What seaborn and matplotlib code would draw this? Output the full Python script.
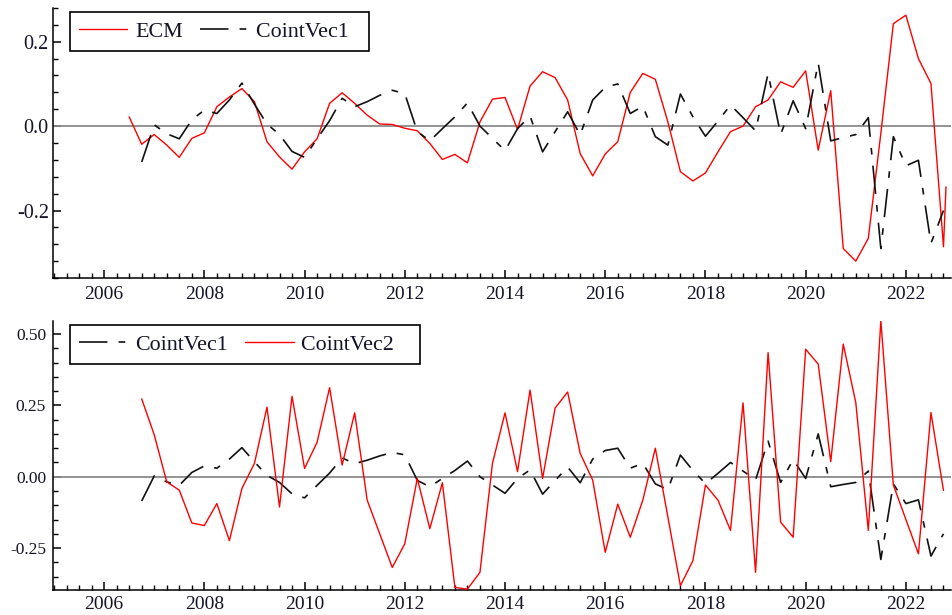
import numpy as np
import pandas as pd
import matplotlib
matplotlib.use("Agg")
import matplotlib.pyplot as plt
from matplotlib.ticker import MultipleLocator, FixedLocator, FixedFormatter
import seaborn as sns

# ---- data (quarterly) ----
ecm_start = "2006Q3"
ecm = [0.022, -0.043, -0.020, -0.045, -0.074, -0.029, -0.016, 0.046, 0.069, 0.089,
       0.058, -0.037, -0.073, -0.102, -0.061, -0.030, 0.054, 0.079, 0.054, 0.026,
       0.005, 0.004, -0.005, -0.011, -0.041, -0.079, -0.067, -0.087, 0.010, 0.064,
       0.068, -0.008, 0.095, 0.129, 0.115, 0.062, -0.065, -0.118, -0.066, -0.037,
       0.080, 0.125, 0.111, 0.010, -0.108, -0.130, -0.111, -0.061, -0.013, 0.000,
       0.046, 0.062, 0.105, 0.092, 0.131, -0.057, 0.084, -0.290, -0.320, -0.266,
       -0.017, 0.243, 0.263, 0.160, 0.101, -0.286]
ecm_tail_date = 2022.8
ecm_tail_value = -0.144

coint_start = "2006Q4"
cointvec1 = [-0.085, 0.003, -0.018, -0.030, 0.015, 0.038, 0.030, 0.062, 0.102, 0.052,
             0.005, -0.020, -0.060, -0.074, -0.030, 0.013, 0.066, 0.046, 0.058, 0.073,
             0.085, 0.077, -0.013, -0.035, -0.006, 0.022, 0.055, 0.000, -0.029, -0.058,
             -0.006, 0.024, -0.061, -0.013, 0.034, -0.021, 0.062, 0.092, 0.100, 0.030,
             0.047, -0.025, -0.045, 0.076, 0.022, -0.024, 0.012, 0.050, 0.020, -0.011,
             0.125, -0.020, 0.060, -0.006, 0.150, -0.035, -0.027, -0.020, 0.020, -0.290,
             -0.025, -0.094, -0.081, -0.278, -0.200]
cointvec2 = [0.273, 0.147, -0.018, -0.047, -0.162, -0.171, -0.094, -0.224, -0.041, 0.047,
             0.244, -0.106, 0.282, 0.029, 0.121, 0.312, 0.041, 0.224, -0.082, -0.200,
             -0.318, -0.235, -0.006, -0.182, -0.021, -0.388, -0.394, -0.335, 0.047, 0.224,
             0.018, 0.304, -0.006, 0.241, 0.297, 0.082, -0.012, -0.265, -0.096, -0.212,
             -0.082, 0.100, -0.141, -0.382, -0.294, -0.029, -0.082, -0.188, 0.259, -0.335,
             0.435, -0.159, -0.212, 0.447, 0.395, 0.053, 0.465, 0.260, -0.188, 0.547,
             -0.029, -0.150, -0.270, 0.225, -0.048]

year_ticks = list(range(2006, 2023, 2))
top_yticks = [-0.2, 0.0, 0.2]
top_ylabels = ["-0.2", "0.0", "0.2"]
bottom_yticks = [-0.25, 0.0, 0.25, 0.50]
bottom_ylabels = ["-0.25", "0.00", "0.25", "0.50"]


def quarter_axis(start, n):
    p = pd.period_range(start, periods=n, freq="Q")
    return np.asarray(p.year + (p.quarter - 1) / 4.0, dtype=float)


ecm_df = pd.DataFrame({
    "date": np.append(quarter_axis(ecm_start, len(ecm)), ecm_tail_date),
    "value": ecm + [ecm_tail_value],
})
cv_dates = quarter_axis(coint_start, len(cointvec1))
cv1_df = pd.DataFrame({"date": cv_dates, "value": cointvec1})
cv2_df = pd.DataFrame({"date": cv_dates, "value": cointvec2})

# ---- style ----
sns.set_theme(style="ticks")
plt.rcParams["font.family"] = ["Liberation Serif", "DejaVu Serif"]
plt.rcParams["lines.scale_dashes"] = False
plt.rcParams["axes.linewidth"] = 1.1

RED = "#ff0000"
BLACK = "#111111"
ZERO = "#8a8a8a"
TEXT = "#141428"
DASH = (20.5, 8.0, 4.8, 8.0)

W, H = 952, 615
fig = plt.figure(figsize=(W / 100, H / 100), dpi=100)
ax_top = fig.add_axes([53 / W, 1 - 278 / H, 898 / W, 270 / H])
ax_bot = fig.add_axes([53 / W, 1 - 590 / H, 898 / W, 269 / H])


def style_axis(ax, ylim, yticks, ylabels, yminor, ysize, ypad, xpad):
    ax.set_xlim(2004.98, 2022.9)
    ax.set_ylim(*ylim)
    for s in ("top", "right"):
        ax.spines[s].set_visible(False)
    for s in ("left", "bottom"):
        ax.spines[s].set_color("black")
        ax.spines[s].set_linewidth(1.1)
    ax.xaxis.set_major_locator(FixedLocator(year_ticks))
    ax.xaxis.set_major_formatter(FixedFormatter([str(y) for y in year_ticks]))
    ax.xaxis.set_minor_locator(MultipleLocator(0.25))
    ax.yaxis.set_major_locator(FixedLocator(yticks))
    ax.yaxis.set_major_formatter(FixedFormatter(ylabels))
    ax.yaxis.set_minor_locator(MultipleLocator(yminor))
    ax.tick_params(axis="both", which="major", direction="in", length=6,
                   width=1.1, color="black")
    ax.tick_params(axis="both", which="minor", direction="in", length=3.5,
                   width=1.0, color="black")
    ax.tick_params(axis="x", which="major", labelsize=14, pad=xpad, labelcolor=TEXT)
    ax.tick_params(axis="y", which="major", labelsize=ysize, pad=ypad, labelcolor=TEXT)
    ax.grid(False)
    ax.axhline(0.0, color=ZERO, lw=1.3, zorder=1)


def draw(ax, df, color, label, dashed=False, lw=1.0):
    sns.lineplot(data=df, x="date", y="value", ax=ax, color=color, lw=lw,
                 errorbar=None, sort=False, label=label, zorder=3)
    line = ax.lines[-1]
    if dashed:
        line.set_dashes(DASH)
    return line


def add_legend(ax, handles, tail):
    # trailing spaces keep the frame's right margin wide
    labels = [h.get_label() for h in handles]
    labels[-1] = labels[-1] + tail
    leg = ax.legend(handles=handles, labels=labels,
                    loc="upper left", bbox_to_anchor=(17 / 898, 1 - 4 / 270),
                    ncol=2, frameon=True, fancybox=False, shadow=False,
                    edgecolor="black", framealpha=1.0, fontsize=15.8,
                    handlelength=2.2, handletextpad=0.35, columnspacing=0.8,
                    borderpad=0.42, borderaxespad=0.0)
    leg.get_frame().set_linewidth(1.2)
    for t in leg.get_texts():
        t.set_color(TEXT)
    return leg


# ---- top panel: ECM and CointVec1 ----
style_axis(ax_top, (-0.36, 0.28), top_yticks, top_ylabels, 0.04, 14.5, 3, 5.5)
h1 = draw(ax_top, ecm_df, RED, "ECM", lw=1.0)
h2 = draw(ax_top, cv1_df, BLACK, "CointVec1", dashed=True, lw=1.2)
add_legend(ax_top, [h1, h2], "  ")

# ---- bottom panel: CointVec1 and CointVec2 ----
style_axis(ax_bot, (-0.397, 0.546), bottom_yticks, bottom_ylabels, 0.05, 12.5, 5, 4)
h3 = draw(ax_bot, cv1_df, BLACK, "CointVec1", dashed=True, lw=1.2)
h4 = draw(ax_bot, cv2_df, RED, "CointVec2", lw=1.0)
add_legend(ax_bot, [h3, h4], "   ")

for ax in (ax_top, ax_bot):
    ax.set_xlabel("")
    ax.set_ylabel("")

fig.savefig("out.png", dpi=100)
